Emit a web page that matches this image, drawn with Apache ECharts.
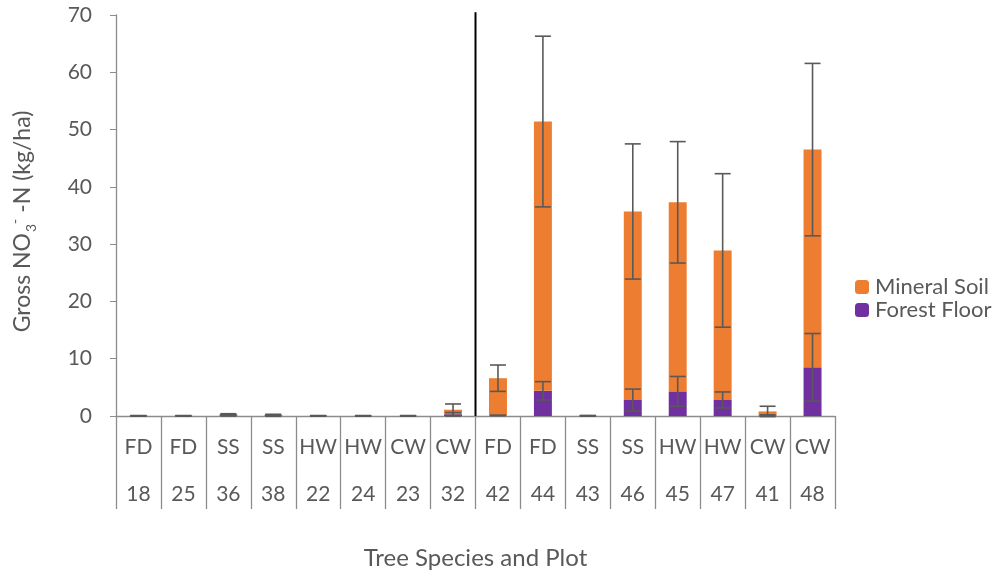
<!DOCTYPE html>
<html><head><meta charset="utf-8">
<script src="https://cdn.jsdelivr.net/npm/echarts@6/dist/echarts.min.js"></script>
<style>html,body{margin:0;padding:0;background:#fff}#c{width:993px;height:575px}</style>
</head><body><div id="c"></div>
<script>
const species = ['FD','FD','SS','SS','HW','HW','CW','CW','FD','FD','SS','SS','HW','HW','CW','CW'];
const plots = ['18','25','36','38','22','24','23','32','42','44','43','46','45','47','41','48'];
const forestFloor = [0.02,0.02,0.1,0.05,0.02,0.02,0.02,0.3, 0.1,4.4,0.02,2.8,4.3,2.8,0.1,8.5];
const forestFloorErr = [0.02,0.02,0.1,0.1,0.02,0.02,0.02,0.3, 0.05,1.6,0.02,1.9,2.6,1.4,0.1,5.9];
const mineralSoil = [0.03,0.03,0.2,0.15,0.03,0.03,0.03,0.8, 6.5,47.0,0.05,32.9,33.0,26.1,0.7,38.0];
const mineralErr = [0.03,0.03,0.1,0.1,0.03,0.03,0.03,1.0, 2.3,14.9,0.03,11.8,10.6,13.4,0.9,15.05];
const yTicks = [0,10,20,30,40,50,60,70];
const dividerAt = [8]; // boundary between plot groups (category index)

const FONT = 'Lato';
const GREY = '#595959';
const categories = species.map((s,i)=>s+'|'+plots[i]);

const ffErrData = forestFloor.map((v,i)=>[i, v-forestFloorErr[i], v+forestFloorErr[i]]);
const msErrData = mineralSoil.map((v,i)=>{const t=v+forestFloor[i]; return [i, t-mineralErr[i], t+mineralErr[i]];});

function errRender(params, api){
  const x = api.value(0);
  const lo = api.coord([x, api.value(1)]);
  const hi = api.coord([x, api.value(2)]);
  const hw = 8;
  const style = {stroke:'#595959', lineWidth:1.6, fill:null};
  return {type:'group', children:[
    {type:'line', shape:{x1:lo[0],y1:lo[1],x2:hi[0],y2:hi[1]}, style},
    {type:'line', shape:{x1:lo[0]-hw,y1:lo[1],x2:lo[0]+hw,y2:lo[1]}, style},
    {type:'line', shape:{x1:hi[0]-hw,y1:hi[1],x2:hi[0]+hw,y2:hi[1]}, style}
  ]};
}

const chart = echarts.init(document.getElementById('c'));
chart.setOption({
  animation:false,
  textStyle:{fontFamily:FONT},
  grid:{left:110,right:158,top:15,bottom:158},
  legend:{
    orient:'vertical', left:850, top:271, itemWidth:14, itemHeight:14, itemGap:1,
    data:['Mineral Soil','Forest Floor'],
    textStyle:{fontFamily:FONT, fontSize:22, color:GREY, padding:[0,0,0,1]}
  },
  xAxis:[{
    type:'category', data:categories,
    axisLine:{lineStyle:{color:'#8c8c8c', width:1.3}},
    axisTick:{show:true, length:93, interval:0, lineStyle:{color:'#8c8c8c', width:1.3}},
    axisLabel:{interval:0, margin:8,
      formatter:(v)=>{const p=v.split('|'); return '{a|'+p[0]+'}\n{a|'+p[1]+'}';},
      rich:{a:{fontFamily:FONT, fontSize:21, color:GREY, lineHeight:47}}},
    name:'Tree Species and Plot', nameLocation:'middle', nameGap:130,
    nameTextStyle:{fontFamily:FONT, fontSize:24, color:GREY}
  },{
    type:'value', min:0, max:16, show:false
  }],
  yAxis:{
    type:'value', min:0, max:70, interval:10,
    axisLine:{show:true, lineStyle:{color:'#8c8c8c', width:1.3}},
    axisTick:{show:true, length:6, lineStyle:{color:'#8c8c8c'}},
    splitLine:{show:false},
    axisLabel:{fontFamily:FONT, fontSize:21, color:GREY, margin:24,
      formatter:(v)=>yTicks.includes(v)?String(v):''},
    name:'{t|Gross NO}{sub|3}{sup|-}{t| -N (kg/ha)}', nameLocation:'middle', nameGap:78, nameRotate:90,
    nameTextStyle:{padding:[0,12,0,0], rich:{
      t:{fontFamily:FONT, fontSize:23, color:GREY, lineHeight:30},
      sub:{fontFamily:FONT, fontSize:14, color:GREY, verticalAlign:'bottom', lineHeight:30, padding:[0,0,0,1]},
      sup:{fontFamily:FONT, fontSize:14, color:GREY, verticalAlign:'top', lineHeight:30}
    }}
  },
  series:[
    {name:'Forest Floor', type:'bar', stack:'s', data:forestFloor, barWidth:'40%', itemStyle:{color:'#7030A0'}},
    {name:'Mineral Soil', type:'bar', stack:'s', data:mineralSoil, itemStyle:{color:'#ED7D31'}},
    {type:'custom', renderItem:errRender, data:ffErrData, z:5, encode:{x:0,y:[1,2]}},
    {type:'custom', renderItem:errRender, data:msErrData, z:5, encode:{x:0,y:[1,2]}},
    {type:'line', xAxisIndex:1, data:dividerAt.flatMap(d=>[[d,0],[d,70.5]]), symbol:'none', clip:false,
     lineStyle:{color:'#000', width:2}, z:6, silent:true}
  ]
});
</script></body></html>
